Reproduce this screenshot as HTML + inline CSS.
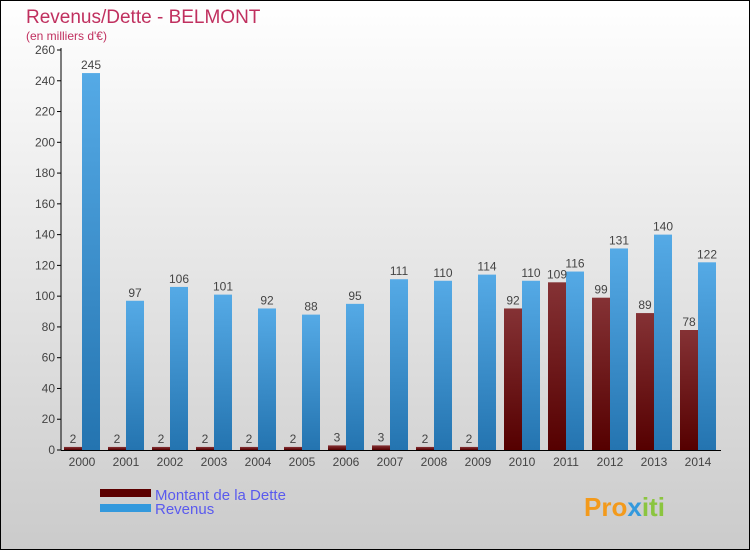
<!DOCTYPE html>
<html><head><meta charset="utf-8"><style>
html,body{margin:0;padding:0}
body{width:750px;height:550px;overflow:hidden;font-family:"Liberation Sans",sans-serif}
</style></head><body>
<svg id="chart" width="750" height="550" xmlns="http://www.w3.org/2000/svg">
<defs>
<linearGradient id="bg" x1="0" y1="0" x2="0" y2="1"><stop offset="0" stop-color="#ffffff"/><stop offset="1" stop-color="#cbcbcb"/></linearGradient>
<linearGradient id="gd" x1="0" y1="0" x2="0" y2="1"><stop offset="0" stop-color="#853235"/><stop offset="1" stop-color="#550000"/></linearGradient>
<linearGradient id="gr" x1="0" y1="0" x2="0" y2="1"><stop offset="0" stop-color="#55aae6"/><stop offset="1" stop-color="#2474b0"/></linearGradient>
</defs>
<rect x="0.5" y="0.5" width="749" height="549" fill="url(#bg)" stroke="#000"/>
<text x="26" y="23" font-size="19" fill="#c0305f">Revenus/Dette - BELMONT</text>
<text x="26" y="40" font-size="12" fill="#c0305f">(en milliers d'€)</text>
<g id="plot"></g>
<g>
<rect x="100" y="489" width="51" height="8" fill="#5c0000"/>
<text x="155" y="500" font-size="15" fill="#5a5aee">Montant de la Dette</text>
<rect x="100" y="504" width="51" height="8" fill="#3399dd"/>
<text x="155" y="514" font-size="15" fill="#5a5aee">Revenus</text>
</g>
<text x="584" y="516" font-size="26" font-weight="bold" fill="#f39a1b">Pro<tspan fill="#3399dd">x</tspan><tspan fill="#8bc53f">iti</tspan></text>
</svg>
<script>
const years=["2000","2001","2002","2003","2004","2005","2006","2007","2008","2009","2010","2011","2012","2013","2014"];
const dette=[2,2,2,2,2,2,3,3,2,2,92,109,99,89,78];
const revenus=[245,97,106,101,92,88,95,111,110,114,110,116,131,140,122];
const yTicks=[0,20,40,60,80,100,120,140,160,180,200,220,240,260];
const NS="http://www.w3.org/2000/svg";
const g=document.getElementById('plot');
const y=v=>450-v*400/260;
const cx=i=>82+i*44;
function el(t,a,txt){const e=document.createElementNS(NS,t);for(const k in a)e.setAttribute(k,a[k]);if(txt!==undefined)e.textContent=txt;g.appendChild(e);return e;}
yTicks.forEach(t=>{
 const l=el('line',{x1:57,x2:61,y1:y(t),y2:y(t),stroke:'#000'});
 
 
 const tx=el('text',{x:55,y:y(t)+4,'font-size':12,'text-anchor':'end',fill:'#444'},t);
 
 
});
years.forEach((yr,i)=>{
 const c=cx(i);
 const bd=el('rect',{x:c-18,y:y(dette[i]),width:18,height:450-y(dette[i]),fill:'url(#gd)'});
 
 
 const br=el('rect',{x:c,y:y(revenus[i]),width:18,height:450-y(revenus[i]),fill:'url(#gr)'});
 
 
 const ld=el('text',{x:c-9,y:y(dette[i])-4,'font-size':12,'text-anchor':'middle',fill:'#444'},dette[i]);
 
 
 const lr=el('text',{x:c+9,y:y(revenus[i])-4,'font-size':12,'text-anchor':'middle',fill:'#444'},revenus[i]);
 
 
 const xl=el('text',{x:c,y:466,'font-size':12,'text-anchor':'middle',fill:'#444'},yr);
 
 
});
const ya=el('line',{x1:61,x2:61,y1:48,y2:450,stroke:'#000'});


const xa=el('line',{x1:61,x2:721,y1:450.5,y2:450.5,stroke:'#000'});


</script>
</body></html>
